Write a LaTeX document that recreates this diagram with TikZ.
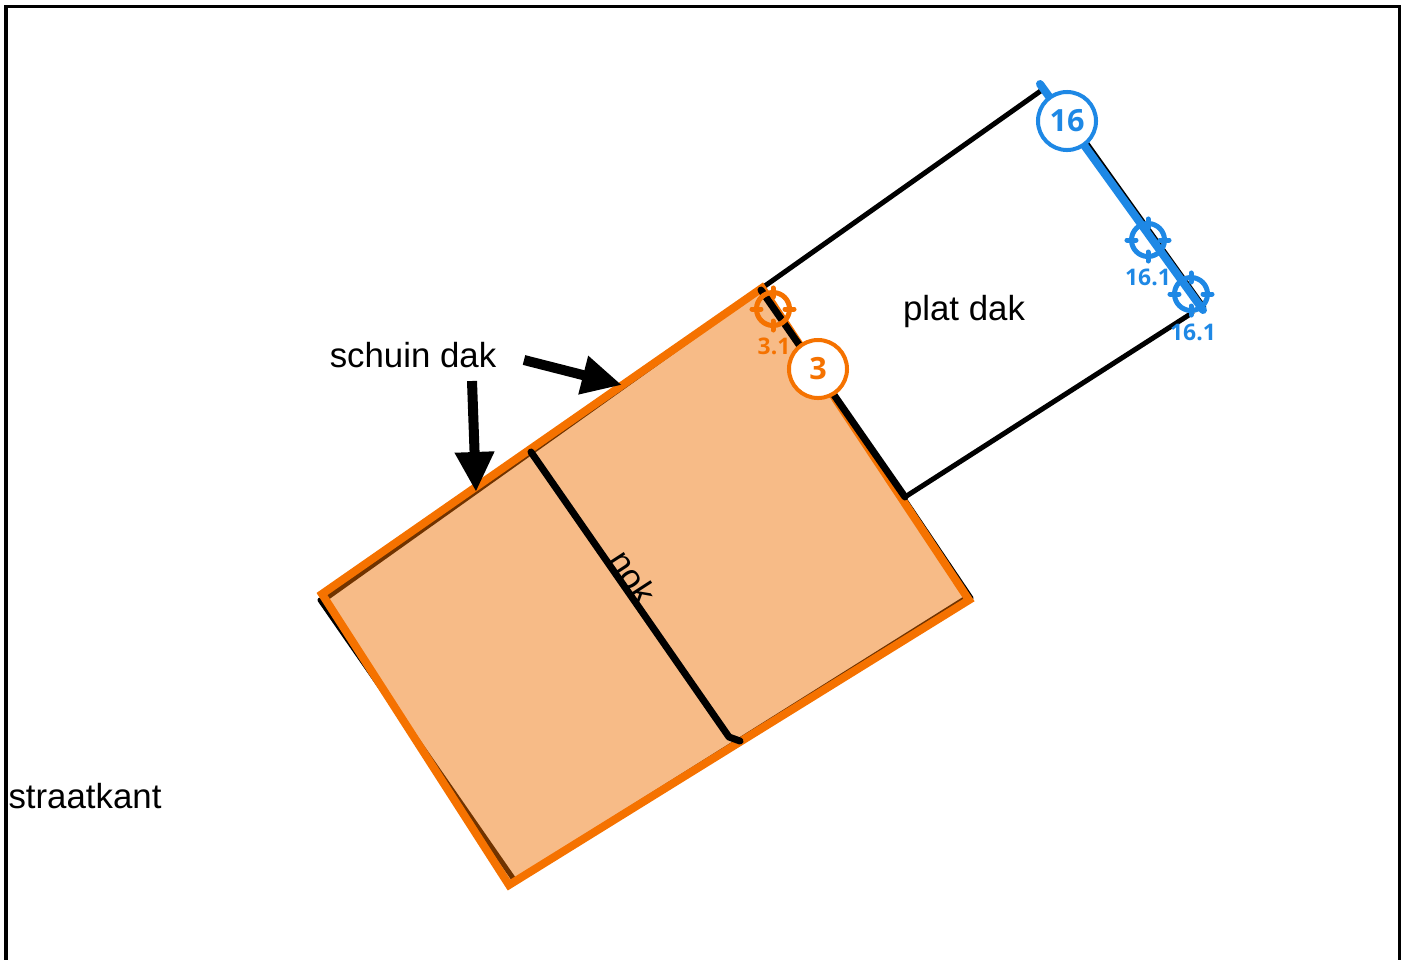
\documentclass[tikz,border=0pt]{standalone}
\usepackage{fontspec}
\setmainfont{Liberation Sans}
\newfontfamily\badgefont{Open Sans}
\usetikzlibrary{arrows.meta}
\definecolor{dakorange}{HTML}{F57200}
\definecolor{dakfill}{HTML}{EE6E00}
\definecolor{dakblue}{HTML}{1E88E5}
\tikzstyle{line} = [draw, black, line width=0.05cm, line cap=round]
\tikzstyle{heavy} = [draw, black, line width=0.07cm, line cap=round, line join=round]
\tikzstyle{pointer} = [draw, black, line width=0.1cm, -{Triangle[length=0.4cm, width=0.37cm]}]
\tikzstyle{caption} = [inner sep=0pt, font=\fontsize{9.9}{12}\selectfont]
\tikzstyle{badge} = [circle, draw, fill=white, line width=0.04cm, minimum size=0.58cm, inner sep=0pt, font=\badgefont\bfseries\fontsize{8.7}{10}\selectfont]
\tikzstyle{target} = [circle, draw, line width=0.05cm, minimum size=0.33cm, inner sep=0pt]
\tikzstyle{targetlabel} = [inner sep=0pt, font=\badgefont\bfseries\fontsize{6.5}{8}\selectfont]
\begin{document}
\begin{tikzpicture}[x=0.01cm, y=-0.01cm]
	\useasboundingbox (0,0) rectangle (1405,960);
	\draw [black, line width=0.03cm] (6,960) -- (6,6) -- (1399,6) -- (1399,960);

	% corners of the two roofs
	\coordinate (topleft) at (322,594);
	\coordinate (bottomleft) at (509,885);
	\coordinate (bottomright) at (969,600);
	\coordinate (topmid) at (762,288);
	\coordinate (flatend) at (905,497);
	\coordinate (flatback) at (1042,90);
	\coordinate (flatside) at (1192,313);

	\path [line] (flatback) to (topmid);
	\path [line] (flatside) to (flatend);
	\path [line] (328,597) -- (topmid) -- (971,598);
	\path [line] (966,598) -- (515,881) -- (320,600);
	\path [line, line width=0.03cm] (1075,125) to (1205,307);

	\path [draw=dakorange, line width=0.08cm, fill=dakfill, fill opacity=0.47, draw opacity=1] (topleft) -- (topmid) -- (bottomright) -- (bottomleft) -- cycle;

	% ridge and the wall
	\coordinate (ridgetop) at (531,452);
	\coordinate (ridgebend) at (729,737);
	\coordinate (ridgeend) at (740,741);
	\path [heavy] (ridgetop) -- (ridgebend) -- (ridgeend);
	\path [heavy] (topmid) ++(-1,2) -- (flatend);
	\path [draw=dakblue, line width=0.08cm, line cap=round] (1040,84) to (1203,310);

	\node [caption] (plat) at (964,311) {plat dak};
	\node [caption] (schuin) at (413,355) {schuin dak};
	\node [caption] (straat) at (85,796) {straatkant};
	\node [caption, rotate=-57] (nok) at (633,577) {nok};

	\coordinate (tailleft) at (472,381);
	\coordinate (tipleft) at (476,492);
	\coordinate (tailright) at (524,360);
	\coordinate (tipright) at (622,385);
	\path [pointer] (tailleft) to (tipleft);
	\path [pointer] (tailright) to (tipright);

	\node [target, draw=dakorange] (target3) at (773,309) {};
	\node [target, draw=dakblue] (target16a) at (1148,240) {};
	\node [target, draw=dakblue] (target16b) at (1191,294) {};
	\foreach \a in {0,90,180,270} {
		\draw [dakorange, line width=0.05cm, line cap=round] (target3.\a) ++(\a:-0.07cm) -- ++(\a:0.09cm);
		\draw [dakblue, line width=0.05cm, line cap=round] (target16a.\a) ++(\a:-0.07cm) -- ++(\a:0.09cm);
		\draw [dakblue, line width=0.05cm, line cap=round] (target16b.\a) ++(\a:-0.07cm) -- ++(\a:0.09cm);
	}
	\node [targetlabel, text=dakorange] (label3) at (774,346) {3.1};
	\node [targetlabel, text=dakblue] (label16a) at (1148,277) {16.1};
	\node [targetlabel, text=dakblue] (label16b) at (1193,332) {16.1};

	\node [badge, draw=dakorange, text=dakorange] (badge3) at (818,369) {3};
	\node [badge, draw=dakblue, text=dakblue] (badge16) at (1067,121) {16};
\end{tikzpicture}
\end{document}
